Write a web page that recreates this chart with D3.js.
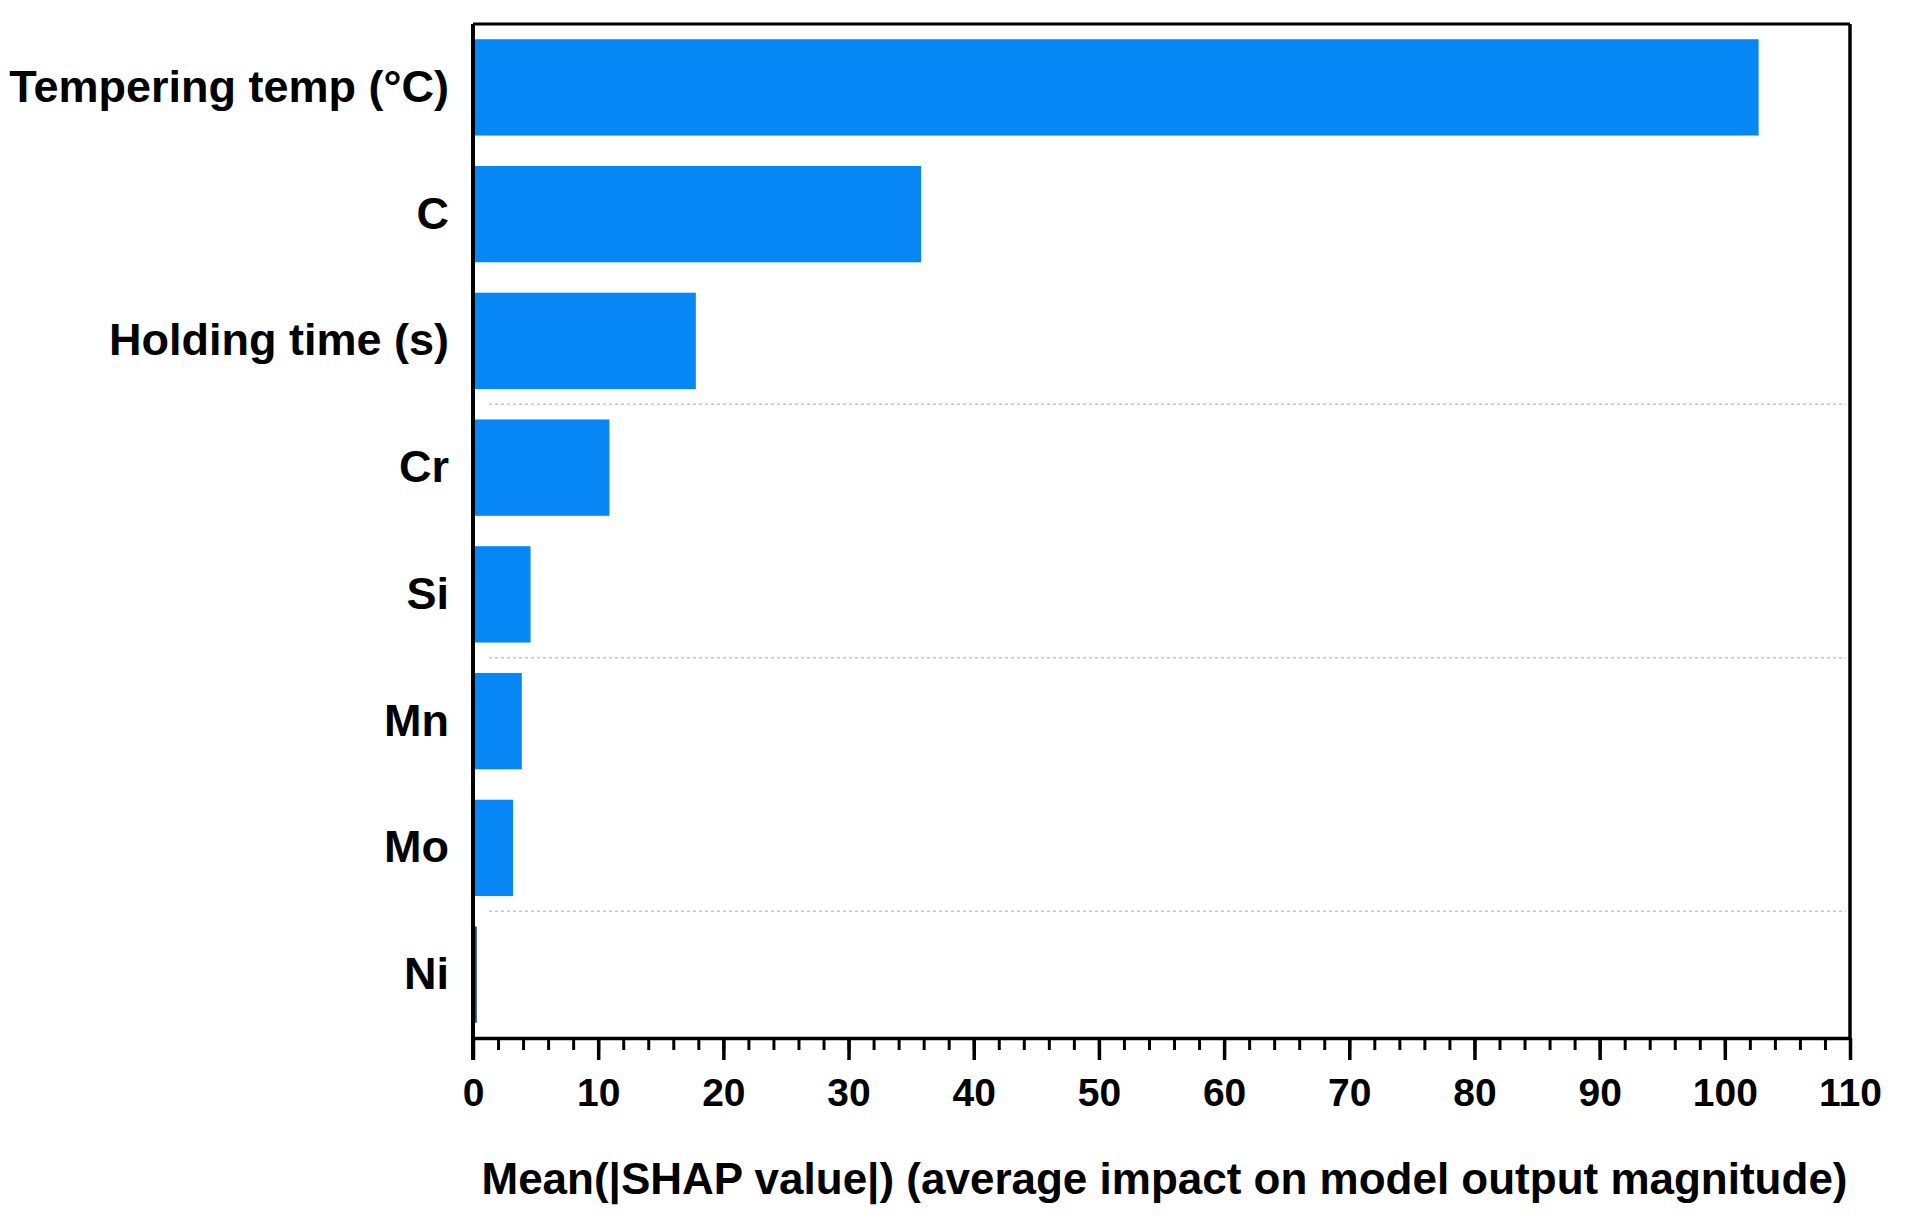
<!DOCTYPE html>
<html>
<head>
<meta charset="utf-8">
<script src="https://cdn.jsdelivr.net/npm/d3@7"></script>
<style>
  html, body { margin: 0; padding: 0; background: #fff; }
  svg text { font-family: "Liberation Sans", Arial, sans-serif; font-weight: bold; fill: #000; }
</style>
</head>
<body>
<svg id="chart" width="1911" height="1216"></svg>
<script>
const features = ["Tempering temp (°C)", "C", "Holding time (s)", "Cr", "Si", "Mn", "Mo", "Ni"];
const shapValues = [102.7, 35.8, 17.8, 10.9, 4.6, 3.9, 3.2, 0.3];
const xTicks = [0, 10, 20, 30, 40, 50, 60, 70, 80, 90, 100, 110];
const xMinorTicks = d3.range(0, 111, 2);
const gridAfter = ["Holding time (s)", "Si", "Mo"];
const xTitle = "Mean(|SHAP value|) (average impact on model output magnitude)";

const svg = d3.select("#chart");
const mLeft = 473, mRight = 1850, mTop = 24, mBottom = 1038;

const x = d3.scaleLinear().domain([0, 110]).range([mLeft, mRight]);
const y = d3.scaleBand().domain(features).range([mTop, mBottom]).paddingInner(0.24).paddingOuter(0.12);
const step = y.step();

// dashed separators
svg.append("g").selectAll("line").data(gridAfter).join("line")
  .attr("x1", mLeft + 16).attr("x2", mRight - 4)
  .attr("y1", d => y(d) + y.bandwidth() + (step - y.bandwidth()) / 2)
  .attr("y2", d => y(d) + y.bandwidth() + (step - y.bandwidth()) / 2)
  .attr("stroke", "#c8c8c8").attr("stroke-width", 1.6).attr("stroke-dasharray", "3,3");

// bars
svg.append("g").selectAll("rect").data(features).join("rect")
  .attr("x", x(0))
  .attr("y", d => y(d))
  .attr("width", (d, i) => x(shapValues[i]) - x(0))
  .attr("height", y.bandwidth())
  .attr("fill", (d, i) => i === features.length - 1 ? "#1f3fa8" : "#0787f5");

// frame top & right
svg.append("line").attr("x1", mLeft).attr("x2", mRight).attr("y1", mTop).attr("y2", mTop)
  .attr("stroke", "#000").attr("stroke-width", 3);
svg.append("line").attr("x1", mRight).attr("x2", mRight).attr("y1", mTop).attr("y2", mBottom)
  .attr("stroke", "#000").attr("stroke-width", 3.5);

// x axis
const gx = svg.append("g").attr("transform", `translate(0,${mBottom})`);
gx.call(d3.axisBottom(x).tickValues(xMinorTicks).tickSize(12).tickFormat(""))
  .call(g => g.select(".domain").remove())
  .call(g => g.selectAll(".tick line").attr("stroke", "#000").attr("stroke-width", 3));
const gx2 = svg.append("g").attr("transform", `translate(0,${mBottom})`);
gx2.call(d3.axisBottom(x).tickValues(xTicks).tickSize(22).tickPadding(18).tickSizeOuter(0))
  .call(g => g.select(".domain").attr("stroke", "#000").attr("stroke-width", 3.5))
  .call(g => g.selectAll(".tick line").attr("stroke", "#000").attr("stroke-width", 3.5))
  .call(g => g.selectAll(".tick text").attr("font-size", 39).attr("font-family", "Liberation Sans, Arial, sans-serif").attr("font-weight", "bold").attr("fill", "#000"));

// y axis
const gy = svg.append("g").attr("transform", `translate(${mLeft},0)`);
gy.call(d3.axisLeft(y).tickSize(0).tickPadding(24).tickSizeOuter(0))
  .call(g => g.select(".domain").attr("stroke", "#000").attr("stroke-width", 4).attr("d", `M0,${mTop}V${mBottom + 22}`))
  .call(g => g.selectAll(".tick text").attr("font-size", 45).attr("font-family", "Liberation Sans, Arial, sans-serif").attr("font-weight", "bold").attr("fill", "#000"));

// x title
svg.append("text")
  .attr("x", (mLeft + mRight) / 2 + 3).attr("y", 1194)
  .attr("text-anchor", "middle").attr("font-size", 44)
  .text(xTitle);
</script>
</body>
</html>
